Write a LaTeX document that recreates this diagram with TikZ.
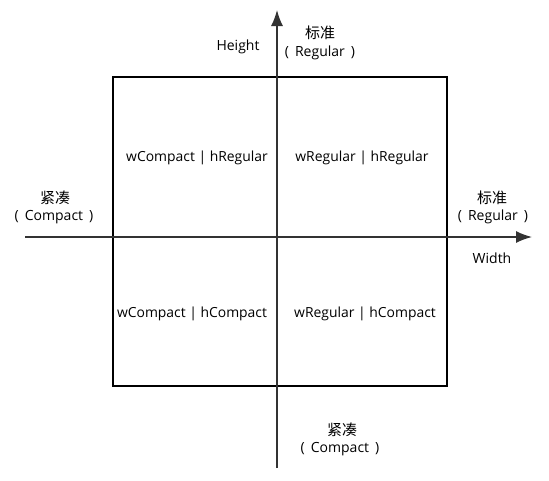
\documentclass[tikz,border=0pt]{standalone}
\usepackage{fontspec}
\setmainfont{Open Sans}
\newfontfamily\cjk{Noto Sans CJK SC}
\usetikzlibrary{arrows.meta,positioning}

\begin{document}
\begin{tikzpicture}[x=1pt,y=-1pt, axis/.style={line width=1.4pt, draw=black!80, -{Latex[length=16pt,width=12pt]}}, lbl/.style={inner sep=0pt, font=\fontsize{14}{16}\selectfont}, zh/.style={inner sep=0pt, font=\cjk\fontsize{15}{17}\selectfont}, quad/.style={inner sep=0pt, font=\fontsize{13.9}{16}\selectfont}]
\useasboundingbox (0,0) rectangle (549,480);
%frame
\node[draw, line width=1.3pt, minimum width=334pt, minimum height=309pt, inner sep=0pt] (frame) at (280,231.5) {};
%axes
\coordinate (xl) at (25,237); \coordinate (xr) at (532,237);
\coordinate (yb) at (277,468); \coordinate (yt) at (277,10);
\draw[axis] (xl) -- (xr);
\draw[axis] (yb) -- (yt);
%quadrants
\node[quad] (cr) at (197,158) {wCompact | hRegular};
\node[quad] (rr) at (362,158) {wRegular | hRegular};
\node[quad] (cc) at (192,314) {wCompact | hCompact};
\node[quad] (rc) at (365,314) {wRegular | hCompact};
%axis labels
\node[lbl] (hgt) at (238,47) {Height};
\node[zh] (tstd) at (320,33) {标准};
\node[lbl, anchor=center] (treg) at (320,53) {(\,\ Regular\ \,)};
\node[zh] (lcmp) at (55,198) {紧凑};
\node[lbl] (lcmpe) at (54,217) {(\,\ Compact\ \,)};
\node[zh] (rstd) at (492,198) {标准};
\node[lbl] (rreg) at (493,217) {(\,\ Regular\ \,)};
\node[lbl] (wdt) at (492,258) {Width};
\node[zh] (bcmp) at (342,430) {紧凑};
\node[lbl] (bcmpe) at (340,449) {(\,\ Compact\ \,)};
\end{tikzpicture}
\end{document}
